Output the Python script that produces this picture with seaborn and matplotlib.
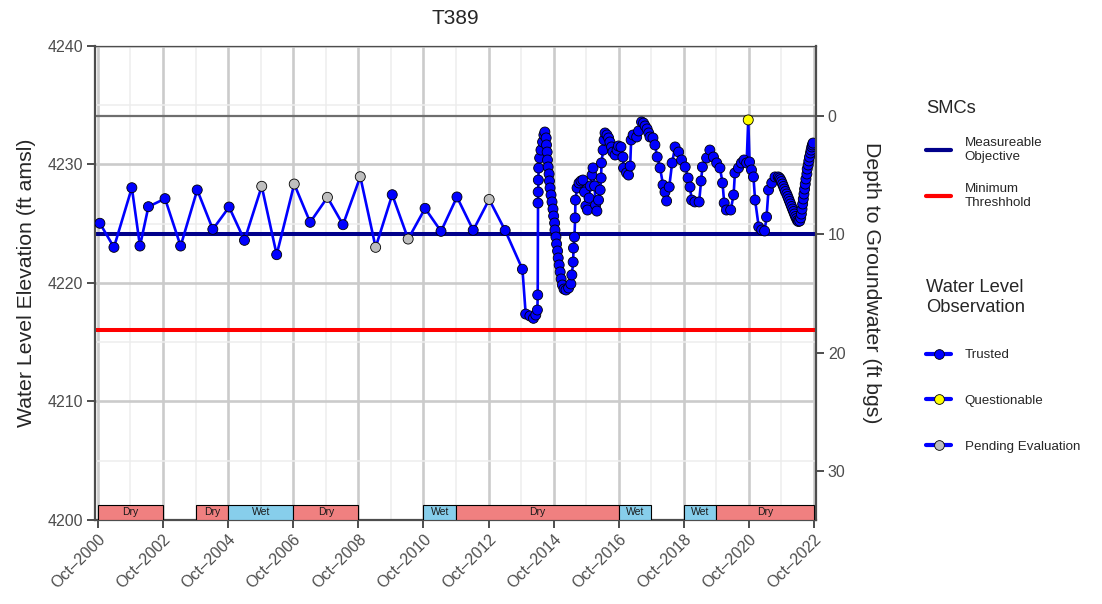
import pandas as pd
import matplotlib
matplotlib.use("Agg")
import matplotlib.pyplot as plt
import matplotlib.dates as mdates
from matplotlib.ticker import MultipleLocator, FixedLocator
from matplotlib.lines import Line2D
import seaborn as sns

# manual measurements 2000-2013 (decimal year, ft amsl)
manual_year = [2000.81, 2001.24, 2001.79, 2002.04, 2002.30, 2002.81, 2003.29, 2003.80, 2004.28, 2004.78,
               2005.25, 2005.78, 2006.24, 2006.78, 2007.27, 2007.80, 2008.28, 2008.81, 2009.28, 2009.79,
               2010.28, 2010.80, 2011.29, 2011.78, 2012.28, 2012.77, 2013.26]
manual_elev = [4225.04, 4223.01, 4228.04, 4223.12, 4226.44, 4227.12, 4223.12, 4227.85, 4224.53, 4226.41,
               4223.60, 4228.16, 4222.39, 4228.35, 4225.12, 4227.23, 4224.92, 4228.97, 4223.01, 4227.45,
               4223.71, 4226.30, 4224.36, 4227.26, 4224.45, 4227.05, 4224.43]

# more frequent record 2013-2022
recent_year = [2013.79, 2013.89, 2014.02, 2014.13, 2014.20, 2014.25, 2014.26,
               2014.27, 2014.275, 2014.28, 2014.29, 2014.32, 2014.36, 2014.41, 2014.45, 2014.48,
               2014.52, 2014.53, 2014.55, 2014.56, 2014.58, 2014.61, 2014.62, 2014.64, 2014.67, 2014.70,
               2014.73, 2014.75, 2014.78, 2014.79, 2014.82, 2014.84, 2014.87, 2014.89, 2014.92, 2014.95,
               2014.98, 2015.02, 2015.07, 2015.13, 2015.21, 2015.28, 2015.31, 2015.35, 2015.36, 2015.39,
               2015.41, 2015.42, 2015.47, 2015.53, 2015.59, 2015.65, 2015.70, 2015.74, 2015.79, 2015.84,
               2015.88, 2015.93, 2015.96, 2016.01, 2016.04, 2016.08, 2016.13, 2016.18, 2016.21, 2016.22,
               2016.27, 2016.30, 2016.33, 2016.39, 2016.44, 2016.48, 2016.53, 2016.57, 2016.64, 2016.70,
               2016.74, 2016.82, 2016.88, 2016.90, 2016.99, 2017.05, 2017.10, 2017.13, 2017.19, 2017.30,
               2017.36, 2017.45, 2017.51, 2017.56, 2017.62, 2017.67, 2017.71, 2017.80, 2017.86, 2017.93,
               2018.02, 2018.11, 2018.17, 2018.22, 2018.30, 2018.39, 2018.48, 2018.59, 2018.68, 2018.79,
               2018.88, 2018.94, 2018.99, 2019.09, 2019.22, 2019.28, 2019.32, 2019.45, 2019.55, 2019.66,
               2019.76, 2019.86, 2019.94, 2019.99, 2020.06, 2020.19, 2020.28, 2020.32, 2020.43, 2020.52,
               2020.60, 2020.68, 2020.73, 2020.77, 2020.83, 2020.89, 2020.94, 2021.05, 2021.14, 2021.23,
               2021.29, 2021.35, 2021.45, 2021.55, 2021.65,
               2021.69, 2021.72, 2021.75, 2021.78, 2021.81, 2021.84, 2021.87, 2021.91, 2021.94, 2021.97,
               2022.00, 2022.03, 2022.06, 2022.09, 2022.12, 2022.15, 2022.18, 2022.21, 2022.24, 2022.27,
               2022.31, 2022.34, 2022.36, 2022.38, 2022.40, 2022.42, 2022.44, 2022.46, 2022.48, 2022.50,
               2022.53, 2022.54, 2022.57, 2022.59, 2022.61, 2022.64, 2022.66, 2022.68, 2022.70, 2022.72]
recent_elev = [4221.16, 4217.38, 4217.22, 4217.02, 4217.30, 4217.72, 4218.99,
               4226.75, 4227.68, 4228.69, 4229.70, 4230.55, 4231.22, 4231.90, 4232.49, 4232.74,
               4232.24, 4231.65, 4231.05, 4230.38, 4229.79, 4229.20, 4228.61, 4228.02, 4227.43, 4226.84,
               4226.24, 4225.65, 4225.06, 4224.47, 4223.88, 4223.29, 4222.70, 4222.11, 4221.52, 4220.93,
               4220.34, 4219.83, 4219.49, 4219.41, 4219.58, 4219.92, 4220.68, 4221.77, 4222.95, 4223.88,
               4225.49, 4227.00, 4228.02, 4228.44, 4228.61, 4228.69, 4227.68, 4226.50, 4226.16, 4227.17,
               4228.19, 4229.11, 4229.71, 4228.19, 4226.58, 4226.07, 4227.00, 4227.85, 4228.86, 4230.13,
               4231.22, 4232.07, 4232.66, 4232.49, 4232.24, 4231.90, 4231.48, 4231.05, 4230.80, 4231.22,
               4231.56, 4231.48, 4230.63, 4229.71, 4229.29, 4229.11, 4229.87, 4232.07, 4232.49, 4232.32,
               4232.83, 4233.59, 4233.50, 4233.25, 4233.00, 4232.66, 4232.32, 4232.24, 4231.65, 4230.63,
               4229.71, 4228.27, 4227.68, 4226.92, 4228.10, 4230.13, 4231.48, 4231.05, 4230.38, 4229.79,
               4228.86, 4228.10, 4227.00, 4226.84, 4226.84, 4228.61, 4229.79, 4230.55, 4231.22, 4230.63,
               4230.13, 4229.71, 4228.44, 4226.75, 4226.16, 4226.16, 4227.43, 4229.29, 4229.71, 4230.13,
               4230.38, 4230.13, 4233.76, 4230.21, 4229.54, 4228.95, 4227.00, 4224.73, 4224.47, 4224.39,
               4225.57, 4227.85, 4228.44, 4228.95, 4228.95,
               4228.86, 4228.73, 4228.56, 4228.35, 4228.14, 4227.93, 4227.72, 4227.51, 4227.30, 4227.09,
               4226.88, 4226.67, 4226.45, 4226.24, 4226.03, 4225.82, 4225.61, 4225.44, 4225.27, 4225.19,
               4225.23, 4225.49, 4225.82, 4226.24, 4226.67, 4227.09, 4227.51, 4227.93, 4228.35, 4228.78,
               4229.20, 4229.62, 4229.96, 4230.30, 4230.63, 4230.97, 4231.22, 4231.48, 4231.65, 4231.81]

pending_years = [2005.78, 2006.78, 2007.80, 2008.81, 2009.28, 2010.28, 2012.77]
questionable_years = [2020.73]

ground_surface = 4234.1
measurable_objective = 4224.1
minimum_threshold = 4216.0

# x ticks: October of every other water year
tick_dates = ["2000-10-01", "2002-10-01", "2004-10-01", "2006-10-01", "2008-10-01", "2010-10-01",
              "2012-10-01", "2014-10-01", "2016-10-01", "2018-10-01", "2020-10-01", "2022-10-01"]

wy_start = ["2000-10-01", "2003-10-01", "2004-10-01", "2006-10-01", "2010-10-01",
            "2011-10-01", "2016-10-01", "2018-10-01", "2019-10-01"]
wy_end = ["2002-10-01", "2004-10-01", "2006-10-01", "2008-10-01", "2011-10-01",
          "2016-10-01", "2017-10-01", "2019-10-01", "2022-10-01"]
wy_type = ["Dry", "Dry", "Wet", "Dry", "Wet", "Dry", "Wet", "Wet", "Dry"]

status_colors = {"Trusted": "#0000ff", "Questionable": "#ffff00", "Pending Evaluation": "#bebebe"}
wy_colors = {"Dry": "#f08080", "Wet": "#87ceeb"}


def to_date(yr):
    year = int(yr)
    return pd.Timestamp(year, 1, 1) + pd.Timedelta(days=(yr - year) * 365.25)


def obs_status(yr):
    if yr in questionable_years:
        return "Questionable"
    if yr in pending_years:
        return "Pending Evaluation"
    return "Trusted"


years = manual_year + recent_year
df = pd.DataFrame({"date": [to_date(y) for y in years],
                   "elev": manual_elev + recent_elev,
                   "status": [obs_status(y) for y in years]})

sns.set_style("white")
plt.rcParams["font.family"] = ["Liberation Sans", "DejaVu Sans"]

fig = plt.figure(figsize=(11.02, 6.04), dpi=100)
ax = fig.add_axes([95 / 1102, 84 / 604, 721 / 1102, 474 / 604])

ax.set_xlim(to_date(2000.66), to_date(2022.81))
ax.set_ylim(4200, 4240)
ax.xaxis.set_major_locator(FixedLocator(mdates.date2num(pd.to_datetime(tick_dates))))
ax.xaxis.set_minor_locator(mdates.YearLocator(1, month=10, day=1))
ax.xaxis.set_major_formatter(mdates.DateFormatter("%b\u2013%Y"))
ax.yaxis.set_major_locator(MultipleLocator(10))
ax.yaxis.set_minor_locator(MultipleLocator(5))
ax.set_axisbelow(True)
ax.grid(which="major", color="#cbcbcb", lw=1.9)
ax.grid(which="minor", color="#ededed", lw=1.1)

ax.axhline(ground_surface, color="#6e6e6e", lw=1.6, zorder=2)
ax.axhline(measurable_objective, color="#00008b", lw=2.9, zorder=2.5)
ax.axhline(minimum_threshold, color="#ff0000", lw=2.9, zorder=2.5)

sns.lineplot(data=df, x="date", y="elev", color="#0000ff", lw=1.9,
             estimator=None, sort=False, ax=ax, zorder=3)
sns.scatterplot(data=df, x="date", y="elev", hue="status", palette=status_colors,
                s=52, edgecolor="black", linewidth=0.6, legend=False, ax=ax, zorder=4)

# water year type bars along the bottom
starts = mdates.date2num(pd.to_datetime(wy_start))
ends = mdates.date2num(pd.to_datetime(wy_end))
ax.bar(starts, 1.3, width=ends - starts, bottom=4200, align="edge",
       color=[wy_colors[t] for t in wy_type], edgecolor="black", lw=0.8, zorder=5)
for s, e, t in zip(starts, ends, wy_type):
    ax.text((s + e) / 2, 4200.65, t, ha="center", va="center", fontsize=7.5,
            color="#1a1a1a", zorder=6)

ax.set_xlabel("")
ax.set_ylabel("Water Level Elevation (ft amsl)", fontsize=15.3, labelpad=8)
ax.set_title("T389", fontsize=15, pad=15.5)
ax.tick_params(which="major", bottom=True, left=True, length=5.5, width=1.4,
               color="#4d4d4d", labelsize=11.5, labelcolor="#4d4d4d", pad=3)
ax.tick_params(which="minor", bottom=False, left=False, length=0)
plt.setp(ax.get_xticklabels(), rotation=45, ha="right", va="top", rotation_mode="anchor")

ax2 = ax.twinx()
ax2.set_ylim(ground_surface - 4200, ground_surface - 4240)
ax2.set_yticks([0, 10, 20, 30])
ax2.tick_params(right=True, length=5.5, width=1.4, color="#4d4d4d", labelsize=11.5,
                labelcolor="#4d4d4d", pad=3)
ax2.set_ylabel("Depth to Groundwater (ft bgs)", fontsize=15.3, rotation=270,
               va="bottom", labelpad=12)

for sp in ["left", "bottom"]:
    ax.spines[sp].set_color("#4d4d4d")
    ax.spines[sp].set_linewidth(1.6)
ax.spines["top"].set_color("#4d4d4d")
ax.spines["top"].set_linewidth(0.9)
ax.spines["right"].set_visible(False)
for sp in ["left", "bottom", "top"]:
    ax2.spines[sp].set_visible(False)
ax2.spines["right"].set_color("#4d4d4d")
ax2.spines["right"].set_linewidth(1.6)

# legends
smc_handles = [Line2D([], [], color="#00008b", lw=3), Line2D([], [], color="#ff0000", lw=3)]
leg1 = ax2.legend(smc_handles, ["Measureable\nObjective", "Minimum\nThreshhold"], title="SMCs",
                  loc="upper left", bbox_to_anchor=(926 / 1102, 1 - 100 / 604),
                  bbox_transform=fig.transFigure, frameon=False, fontsize=9.6,
                  title_fontsize=13.2, alignment="left", handlelength=1.9,
                  handletextpad=1.0, labelspacing=1.5, borderpad=0, borderaxespad=0)
ax2.add_artist(leg1)

obs_labels = ["Trusted", "Questionable", "Pending Evaluation"]
obs_handles = [Line2D([], [], color="#0000ff", lw=3, marker="o", markersize=7,
                      markerfacecolor=status_colors[k], markeredgecolor="black",
                      markeredgewidth=0.6) for k in obs_labels]
ax2.legend(obs_handles, obs_labels, title="Water Level\nObservation",
           loc="upper left", bbox_to_anchor=(926 / 1102, 1 - 279 / 604),
           bbox_transform=fig.transFigure, frameon=False, fontsize=9.6,
           title_fontsize=13.2, alignment="left", handlelength=1.9,
           handletextpad=1.0, labelspacing=2.5, borderpad=0, borderaxespad=0)

fig.savefig("out.png", dpi=100, facecolor="white")
